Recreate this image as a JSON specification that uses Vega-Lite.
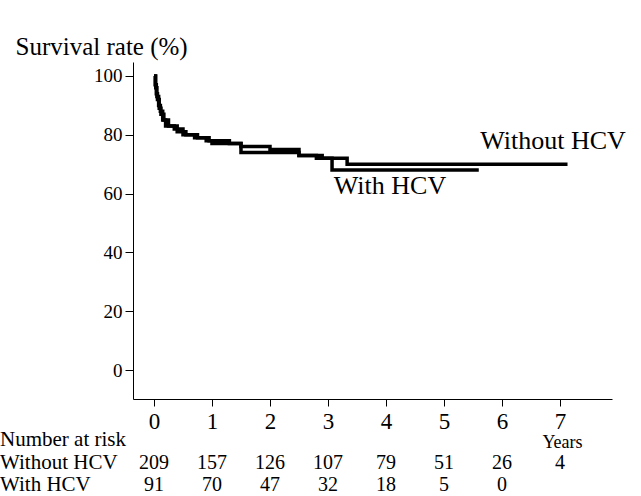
{
  "$schema": "https://vega.github.io/schema/vega-lite/v6.json",
  "width": 479,
  "height": 337,
  "autosize": {"type": "none"},
  "padding": {"left": 133, "top": 62, "right": 29, "bottom": 97},
  "background": "white",
  "config": {
    "view": {"stroke": null},
    "font": "Liberation Serif, Times New Roman, serif",
    "axis": {"grid": false, "domainColor": "black", "tickColor": "black", "labelColor": "black", "titleColor": "black", "labelFont": "Liberation Serif, Times New Roman, serif", "titleFont": "Liberation Serif, Times New Roman, serif", "titleFontWeight": "normal"}
  },
  "datasets": {
    "curves": [
      {"group": "Without HCV", "t": 0, "s": 100},
      {"group": "Without HCV", "t": 0.02, "s": 97},
      {"group": "Without HCV", "t": 0.04, "s": 94},
      {"group": "Without HCV", "t": 0.06, "s": 92},
      {"group": "Without HCV", "t": 0.09, "s": 89},
      {"group": "Without HCV", "t": 0.12, "s": 87},
      {"group": "Without HCV", "t": 0.17, "s": 85},
      {"group": "Without HCV", "t": 0.25, "s": 83},
      {"group": "Without HCV", "t": 0.4, "s": 81},
      {"group": "Without HCV", "t": 0.55, "s": 80},
      {"group": "Without HCV", "t": 0.75, "s": 79},
      {"group": "Without HCV", "t": 0.95, "s": 78},
      {"group": "Without HCV", "t": 1.3, "s": 77},
      {"group": "Without HCV", "t": 1.5, "s": 76},
      {"group": "Without HCV", "t": 2.0, "s": 75},
      {"group": "Without HCV", "t": 2.5, "s": 73},
      {"group": "Without HCV", "t": 2.9, "s": 72},
      {"group": "Without HCV", "t": 3.33, "s": 70},
      {"group": "Without HCV", "t": 7.13, "s": 70},
      {"group": "With HCV", "t": 0, "s": 100},
      {"group": "With HCV", "t": 0.03, "s": 96},
      {"group": "With HCV", "t": 0.05, "s": 93},
      {"group": "With HCV", "t": 0.08, "s": 90},
      {"group": "With HCV", "t": 0.11, "s": 88},
      {"group": "With HCV", "t": 0.15, "s": 85},
      {"group": "With HCV", "t": 0.2, "s": 83},
      {"group": "With HCV", "t": 0.35, "s": 82},
      {"group": "With HCV", "t": 0.5, "s": 80},
      {"group": "With HCV", "t": 0.7, "s": 79},
      {"group": "With HCV", "t": 0.9, "s": 78},
      {"group": "With HCV", "t": 1.0, "s": 77},
      {"group": "With HCV", "t": 1.5, "s": 74},
      {"group": "With HCV", "t": 2.5, "s": 73},
      {"group": "With HCV", "t": 2.8, "s": 72},
      {"group": "With HCV", "t": 3.07, "s": 68},
      {"group": "With HCV", "t": 5.6, "s": 68}
    ],
    "labels": [
      {"t": 6.88, "s": 78.0, "text": "Without HCV"},
      {"t": 4.07, "s": 62.6, "text": "With HCV"}
    ],
    "risk": [
      {"t": 0, "row": -31.6, "n": "209"},
      {"t": 1, "row": -31.6, "n": "157"},
      {"t": 2, "row": -31.6, "n": "126"},
      {"t": 3, "row": -31.6, "n": "107"},
      {"t": 4, "row": -31.6, "n": "79"},
      {"t": 5, "row": -31.6, "n": "51"},
      {"t": 6, "row": -31.6, "n": "26"},
      {"t": 7, "row": -31.6, "n": "4"},
      {"t": 0, "row": -39.1, "n": "91"},
      {"t": 1, "row": -39.1, "n": "70"},
      {"t": 2, "row": -39.1, "n": "47"},
      {"t": 3, "row": -39.1, "n": "32"},
      {"t": 4, "row": -39.1, "n": "18"},
      {"t": 5, "row": -39.1, "n": "5"},
      {"t": 6, "row": -39.1, "n": "0"}
    ],
    "rowlabels": [
      {"t": -2.655, "row": -23.8, "text": "Number at risk"},
      {"t": -2.655, "row": -31.6, "text": "Without HCV"},
      {"t": -2.655, "row": -39.1, "text": "With HCV"}
    ]
  },
  "layer": [
    {
      "data": {"name": "curves"},
      "mark": {"type": "line", "interpolate": "step-after", "color": "black", "strokeWidth": 3.5},
      "encoding": {
        "x": {"field": "t", "type": "quantitative", "scale": {"domain": [-0.362, 7.897], "nice": false, "zero": false},
          "axis": {"values": [0, 1, 2, 3, 4, 5, 6, 7], "format": "d", "tickSize": 7, "labelFontSize": 23, "labelPadding": 4, "title": "Years", "titleFontSize": 18, "titleX": 429, "titleY": 43, "titleAlign": "center", "titleBaseline": "middle"}},
        "y": {"field": "s", "type": "quantitative", "scale": {"domain": [-9.86, 104.76], "nice": false, "zero": false},
          "axis": {"values": [0, 20, 40, 60, 80, 100], "tickSize": 8, "labelFontSize": 19, "labelPadding": 3, "title": "Survival rate (%)", "titleAngle": 0, "titleAlign": "left", "titleBaseline": "alphabetic", "titleX": -118, "titleY": -8, "titleFontSize": 25}},
        "detail": {"field": "group", "type": "nominal"}
      }
    },
    {
      "data": {"name": "labels"},
      "mark": {"type": "text", "fontSize": 26, "color": "black", "align": "center", "baseline": "middle", "font": "Liberation Serif, Times New Roman, serif"},
      "encoding": {
        "x": {"field": "t", "type": "quantitative"},
        "y": {"field": "s", "type": "quantitative"},
        "text": {"field": "text"}
      }
    },
    {
      "data": {"name": "risk"},
      "mark": {"type": "text", "fontSize": 20, "color": "black", "align": "center", "baseline": "middle", "font": "Liberation Serif, Times New Roman, serif"},
      "encoding": {
        "x": {"field": "t", "type": "quantitative"},
        "y": {"field": "row", "type": "quantitative"},
        "text": {"field": "n"}
      }
    },
    {
      "data": {"name": "rowlabels"},
      "mark": {"type": "text", "fontSize": 21, "color": "black", "align": "left", "baseline": "middle", "font": "Liberation Serif, Times New Roman, serif"},
      "encoding": {
        "x": {"field": "t", "type": "quantitative"},
        "y": {"field": "row", "type": "quantitative"},
        "text": {"field": "text"}
      }
    }
  ]
}
